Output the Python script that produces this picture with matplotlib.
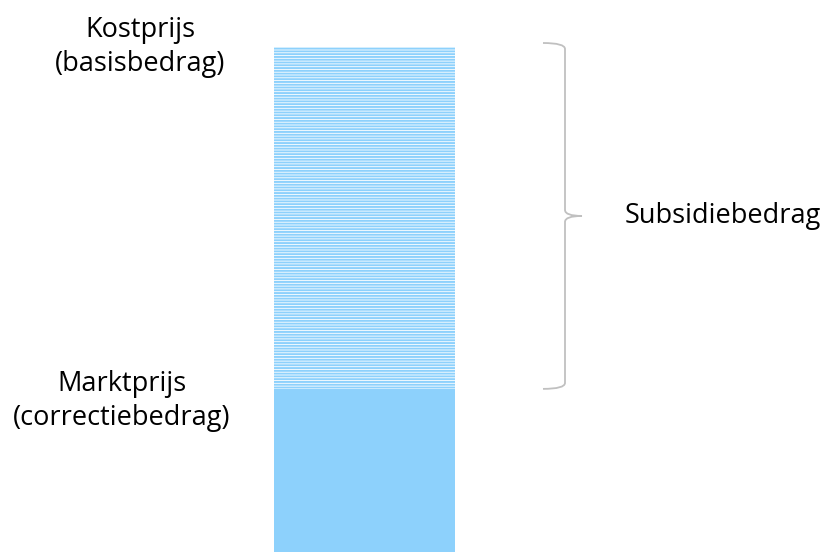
import matplotlib.pyplot as plt
from matplotlib.path import Path
from matplotlib.patches import PathPatch

plt.rcParams['font.family'] = ['Open Sans', 'DejaVu Sans']

# price levels (relative units)
basisbedrag = 10.0        # kostprijs
correctiebedrag = 3.23    # marktprijs
labels = ["Kostprijs\n(basisbedrag)", "Marktprijs\n(correctiebedrag)", "Subsidiebedrag"]

BLUE = '#8dd1fc'
GREY = '#c0c0c0'

fig = plt.figure(figsize=(8.24, 5.52), dpi=100)
ax = fig.add_axes([0, 0, 1, 1])
ax.set_xlim(0, 824)
ymax = basisbedrag / ((552 - 47) / 552)
ax.set_ylim(0, ymax)
ax.axis('off')
px = ymax / 552  # data units per pixel in y

bx, bw = 364.5, 181
# market price part (solid)
ax.bar(bx, correctiebedrag, width=bw, color=BLUE, linewidth=0)
# subsidy part (hatched)
plt.rcParams['hatch.linewidth'] = 1.4
ax.bar(bx, basisbedrag - correctiebedrag, bottom=correctiebedrag, width=bw,
       facecolor='white', edgecolor=BLUE, hatch='------', linewidth=0)

# labels on the left
ax.text(140, basisbedrag, labels[0], ha='center', va='center', fontsize=19.5,
        linespacing=1.3, color='black')
ax.text(122, correctiebedrag - 12 * px, labels[1], ha='center', va='center',
        fontsize=19.5, linespacing=1.3, color='black')

# curly brace spanning the subsidy
top = basisbedrag + 4 * px
bot = correctiebedrag
mid = (top + bot) / 2
x0, x1, x2 = 543, 565, 582
r = 6 * px
verts = [(x0, top), (x1, top), (x1, top - r),
         (x1, mid + r), (x1, mid), (x2, mid),
         (x1, mid), (x1, mid - r),
         (x1, bot + r), (x1, bot), (x0, bot)]
codes = [Path.MOVETO, Path.CURVE3, Path.CURVE3,
         Path.LINETO, Path.CURVE3, Path.CURVE3,
         Path.CURVE3, Path.CURVE3,
         Path.LINETO, Path.CURVE3, Path.CURVE3]
ax.add_patch(PathPatch(Path(verts, codes), facecolor='none', edgecolor=GREY, lw=1.3))

ax.text(625, mid, labels[2], ha='left', va='center', fontsize=19.5, color='black')

fig.savefig('out.png', dpi=100)
